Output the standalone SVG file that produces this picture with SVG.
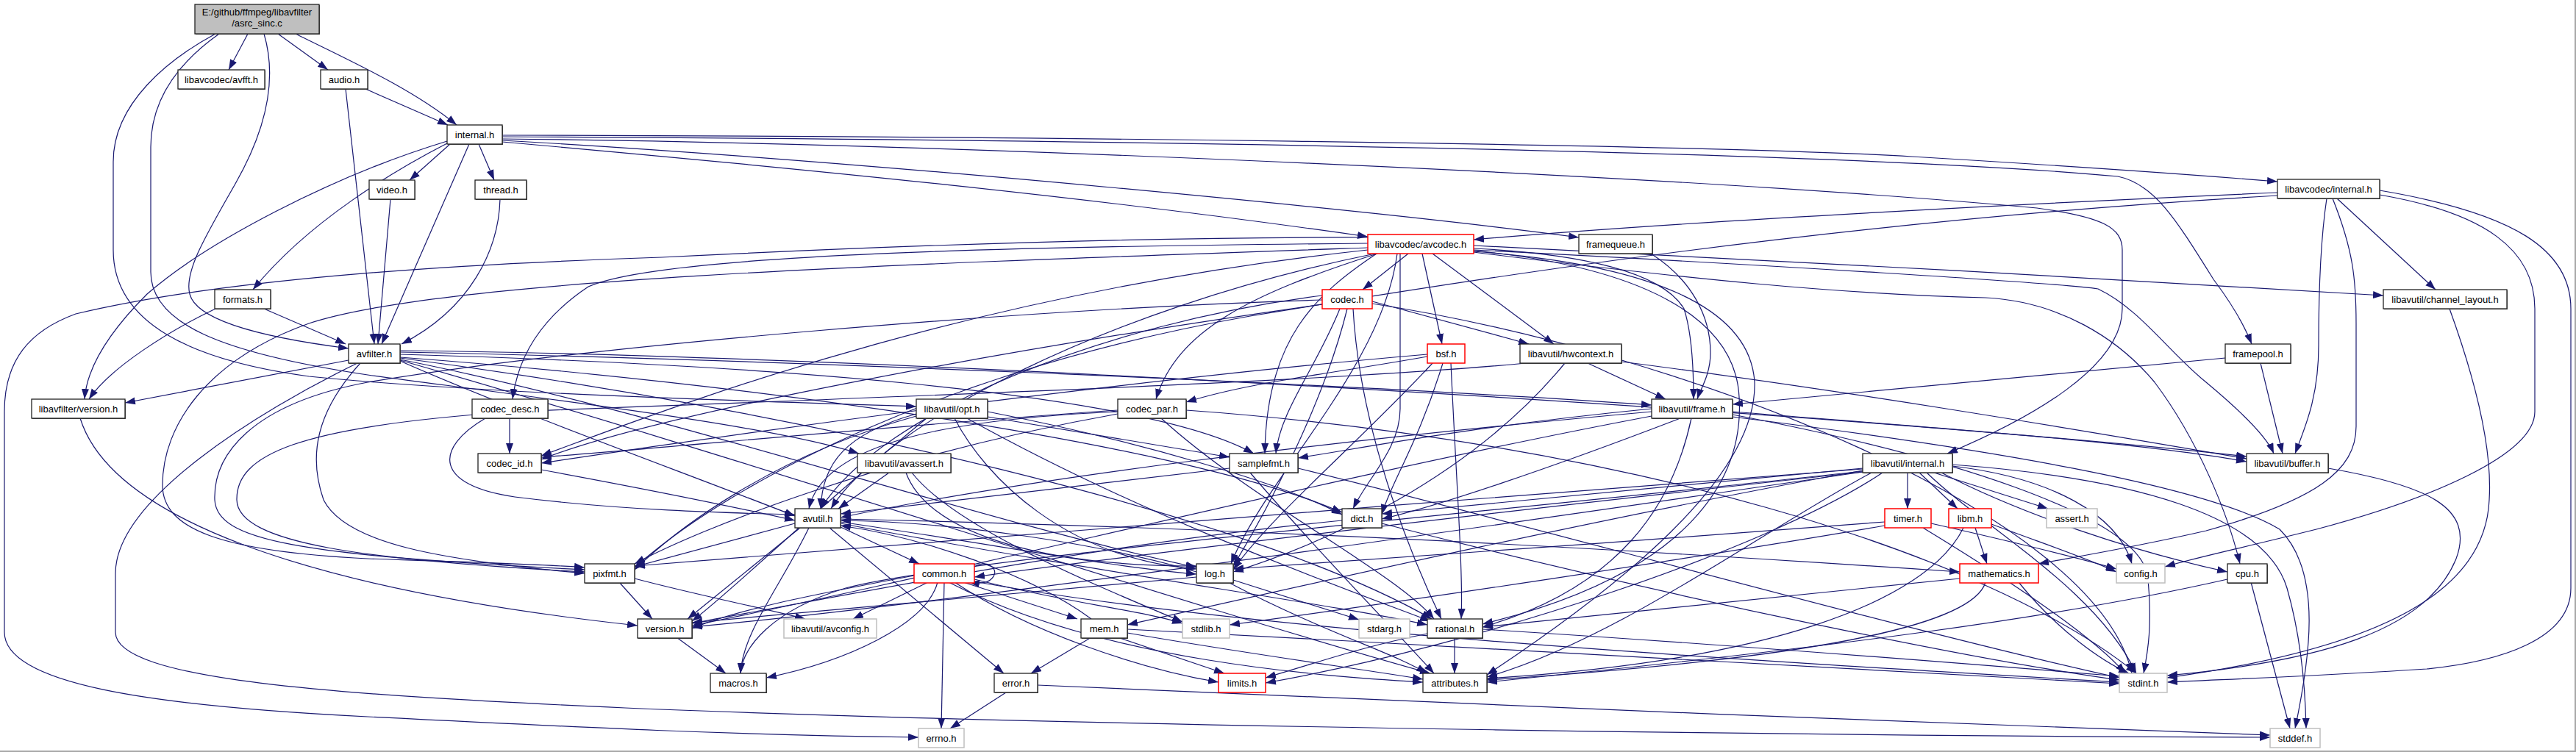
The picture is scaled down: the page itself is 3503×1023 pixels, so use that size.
<svg xmlns="http://www.w3.org/2000/svg" width="3503" height="1023" viewBox="0 0 3503 1023">
<style>
.b{fill:#fff;stroke:#222;stroke-width:1.3}
.r{fill:#fff;stroke:#f00;stroke-width:1.5}
.g{fill:#fff;stroke:#bfbfbf;stroke-width:1.5}
.s{fill:#555;stroke:none}
text{font-family:"Liberation Sans",Arial,sans-serif;font-size:13px;text-anchor:middle;fill:#000}
.e{fill:none;stroke:#191970;stroke-width:1.2;marker-end:url(#a)}
</style>
<defs>
<marker id="a" markerUnits="userSpaceOnUse" markerWidth="15" markerHeight="11" refX="14" refY="5" orient="auto"><path d="M0,0 L14,5 L0,10 z" fill="#191970"/></marker>
</defs>
<rect x="0" y="0" width="3503" height="1023" fill="#fff"/>
<path d="M3502,0 V1022 H0" fill="none" stroke="#a8a8a8" stroke-width="2"/>
<g id="edges">
<path class="e" d="M337,46 L311,95"/>
<path class="e" d="M378,46 L446,95"/>
<path class="e" d="M402,46 C470,80 560,120 621,170"/>
<path class="e" d="M359,46 C378,110 360,180 320,250 C280,320 250,370 258,400 C268,440 380,462 474,474"/>
<path class="e" d="M293,46 C230,80 154,140 154,220 L154,340 C154,440 260,490 420,512 C650,535 1000,545 1246,553"/>
<path class="e" d="M298,46 C250,80 205,130 205,200 L205,370 C205,440 300,480 500,510 C800,550 1050,580 1168,617"/>
<path class="e" d="M497,121 L609,170"/>
<path class="e" d="M470,121 L509,468"/>
<path class="e" d="M612,196 L557,245"/>
<path class="e" d="M651,196 L672,245"/>
<path class="e" d="M638,196 L519,468"/>
<path class="e" d="M608,195 C540,230 420,300 344,394"/>
<path class="e" d="M608,192 C450,240 280,330 200,400 C150,450 118,500 115,543"/>
<path class="e" d="M683,193 C1100,230 1500,270 1860,322"/>
<path class="e" d="M683,191 C1200,220 1900,290 2147,323"/>
<path class="e" d="M683,184 C1300,185 2300,195 2600,213 C2800,225 2950,235 3097,247"/>
<path class="e" d="M683,186 C1500,190 2500,205 2880,240 C2930,250 2960,300 3010,380 C3040,420 3055,450 3062,468"/>
<path class="e" d="M683,189 C1300,195 2300,240 2770,283 C2860,295 2886,310 2886,340 L2886,420 C2886,500 2760,570 2648,617"/>
<path class="e" d="M359,420 L470,468"/>
<path class="e" d="M293,420 C230,450 150,500 121,543"/>
<path class="e" d="M531,271 L514,468"/>
<path class="e" d="M680,271 C678,340 640,420 546,468"/>
<path class="e" d="M474,490 L170,548"/>
<path class="e" d="M490,494 C430,560 419,620 440,680 C470,740 600,762 795,780"/>
<path class="e" d="M544,491 C700,560 950,650 1081,702"/>
<path class="e" d="M544,477 C1200,483 2500,560 3055,621"/>
<path class="e" d="M544,486 C1000,520 1600,600 1825,697"/>
<path class="e" d="M544,479 C1000,488 1800,520 2246,551"/>
<path class="e" d="M544,489 C900,560 1300,700 1627,772"/>
<path class="e" d="M544,482 C1000,495 1550,530 1705,617"/>
<path class="e" d="M544,487 C1100,560 1700,700 1947,842"/>
<path class="e" d="M544,490 C1000,620 1600,820 1945,916"/>
<path class="e" d="M486,494 C350,560 157,680 157,780 L157,860 C157,925 450,945 850,963 C1500,990 2600,1002 3087,1003"/>
<path class="e" d="M1860,323 C1500,322 1100,340 900,350 C600,360 300,380 103,427 C40,450 6,490 6,560 L6,860 C6,930 200,960 500,975 C800,990 1000,1000 1249,1003"/>
<path class="e" d="M1915,345 L1853,394"/>
<path class="e" d="M1934,345 L1961,468"/>
<path class="e" d="M1948,345 L2113,468"/>
<path class="e" d="M1860,331 C1400,335 900,345 800,390 C740,430 705,480 697,543"/>
<path class="e" d="M1873,345 C1700,400 1600,450 1572,543"/>
<path class="e" d="M1872,345 C1790,400 1722,460 1720,617"/>
<path class="e" d="M1904,345 L1904,556 C1904,610 1860,650 1840,692"/>
<path class="e" d="M2004,338 C2150,345 2260,370 2290,420 C2303,460 2303,520 2303,543"/>
<path class="e" d="M2004,334 C2300,348 2900,380 3241,402"/>
<path class="e" d="M2004,340 C2400,360 2800,385 2853,393 C2910,420 2950,480 3000,520 C3060,570 3085,600 3092,617"/>
<path class="e" d="M2004,343 C2300,380 2500,400 2700,405 C2800,410 2880,460 2930,520 C2990,600 3030,700 3046,767"/>
<path class="e" d="M2004,342 C2250,360 2380,420 2386,520 C2390,650 2200,800 2022,918"/>
<path class="e" d="M2004,341 C2250,365 2360,440 2365,540 C2372,650 2300,780 2016,849"/>
<path class="e" d="M1900,345 C1880,500 1720,650 1674,767"/>
<path class="e" d="M1860,337 C1200,360 600,380 420,440 C280,490 221,580 221,660 C221,720 300,750 500,760 C650,765 750,768 795,772"/>
<path class="e" d="M1870,345 C1500,420 1200,580 1130,692"/>
<path class="e" d="M1860,340 C1300,400 900,560 736,620"/>
<path class="e" d="M1798,402 C1500,440 1200,560 1116,692"/>
<path class="e" d="M1866,410 L2079,468"/>
<path class="e" d="M1832,420 C1800,550 1720,700 1677,770"/>
<path class="e" d="M1798,408 C1400,420 800,470 500,520 C340,550 290,620 292,680 C295,735 400,755 795,775"/>
<path class="e" d="M1840,420 C1850,600 1930,780 1960,842"/>
<path class="e" d="M1822,420 C1790,500 1740,560 1735,617"/>
<path class="e" d="M1798,414 C1400,470 900,560 736,625"/>
<path class="e" d="M1866,413 C2300,480 2850,700 2899,916"/>
<path class="e" d="M1941,485 C1800,510 1700,520 1613,547"/>
<path class="e" d="M1941,482 C1500,520 1000,590 736,630"/>
<path class="e" d="M1962,494 C1930,600 1890,660 1879,700"/>
<path class="e" d="M1948,494 C1850,600 1730,700 1677,775"/>
<path class="e" d="M1973,494 C1980,650 1990,780 1987,842"/>
<path class="e" d="M2159,494 L2265,543"/>
<path class="e" d="M2205,492 C2500,530 2800,580 3055,624"/>
<path class="e" d="M2128,494 C2000,650 1800,740 1677,778"/>
<path class="e" d="M2075,494 C1800,520 1200,540 700,560 C400,580 321,620 322,680 C323,740 500,762 795,778"/>
<path class="e" d="M2246,560 C1800,600 1400,650 1143,704"/>
<path class="e" d="M2356,560 C2600,580 2900,600 3055,628"/>
<path class="e" d="M2285,569 C2100,640 1950,690 1879,706"/>
<path class="e" d="M2300,569 C2274,690 2200,800 2016,853"/>
<path class="e" d="M2246,556 C2000,580 1850,610 1765,623"/>
<path class="e" d="M2246,566 C1800,650 1300,780 941,851"/>
<path class="e" d="M2356,567 C2700,610 3000,660 3100,720 C3160,780 3140,900 3121,991"/>
<path class="e" d="M2356,564 C2650,620 2900,700 2920,780 C2928,850 2920,890 2915,916"/>
<path class="e" d="M2245,345 C2300,380 2326,430 2326,480 C2326,510 2312,530 2308,543"/>
<path class="e" d="M3074,494 L3104,617"/>
<path class="e" d="M3026,487 L2356,550"/>
<path class="e" d="M3097,262 C2800,275 2300,300 2004,326"/>
<path class="e" d="M3097,266 C2500,300 2000,380 1700,430 C1300,500 1000,650 863,772"/>
<path class="e" d="M3178,270 L3312,394"/>
<path class="e" d="M3164,270 C3155,330 3153,400 3153,470 C3153,540 3135,580 3121,617"/>
<path class="e" d="M3172,270 C3200,340 3204,380 3204,440 L3204,580 C3204,640 3150,680 3000,722 C2900,745 2820,758 2772,767"/>
<path class="e" d="M3236,265 C3380,290 3447,340 3447,420 L3447,560 C3447,620 3300,680 3150,720 C3050,745 2980,760 2944,771"/>
<path class="e" d="M3236,259 C3420,290 3496,340 3496,420 L3496,800 C3496,870 3400,900 3300,910 C3150,920 3000,925 2947,928"/>
<path class="e" d="M3331,420 C3360,500 3390,600 3385,680 C3380,800 3250,880 2947,922"/>
<path class="e" d="M3166,637 C3300,660 3366,690 3340,760 C3300,860 3150,900 2947,919"/>
<path class="e" d="M3061,792 L3114,991"/>
<path class="e" d="M3029,788 C2800,840 2500,880 2022,928"/>
<path class="e" d="M2594,643 L2594,692"/>
<path class="e" d="M2610,643 L2662,692"/>
<path class="e" d="M2630,643 L2785,692"/>
<path class="e" d="M2655,634 C2790,650 2880,700 2899,767"/>
<path class="e" d="M2640,643 C2750,700 2900,750 3029,778"/>
<path class="e" d="M2620,643 C2700,720 2850,800 2905,916"/>
<path class="e" d="M2655,632 C2900,650 3080,700 3110,800 C3130,870 3135,940 3136,991"/>
<path class="e" d="M2545,643 C2400,720 2200,870 2022,921"/>
<path class="e" d="M2533,637 L1879,699"/>
<path class="e" d="M2533,640 C2200,700 1800,790 1533,850"/>
<path class="e" d="M2533,641 C2000,700 1300,760 1150,800 C1050,830 1010,880 1007,916"/>
<path class="e" d="M2533,638 C2000,680 1200,740 863,770"/>
<path class="e" d="M2533,642 C2000,720 1300,820 941,853"/>
<path class="e" d="M2560,643 C2400,750 2000,880 1721,929"/>
<path class="e" d="M2533,642 C2000,700 1500,760 1325,785"/>
<path class="e" d="M2626,712 C2750,740 2830,760 2878,774"/>
<path class="e" d="M2615,718 C2750,800 2850,870 2890,916"/>
<path class="e" d="M2563,710 C2300,730 1900,760 1677,774"/>
<path class="e" d="M2563,715 C2300,760 1900,820 1672,850"/>
<path class="e" d="M2686,718 L2702,767"/>
<path class="e" d="M2708,713 C2780,740 2840,760 2878,778"/>
<path class="e" d="M2670,718 C2620,820 2400,900 2022,923"/>
<path class="e" d="M2745,792 C2800,860 2860,900 2895,916"/>
<path class="e" d="M2700,792 C2680,860 2400,900 2022,925"/>
<path class="e" d="M2665,787 L2016,853"/>
<path class="e" d="M1879,712 C2300,820 2700,900 2882,925"/>
<path class="e" d="M1825,708 C1500,740 1200,800 941,848"/>
<path class="e" d="M1672,637 L1143,699"/>
<path class="e" d="M1765,637 C2100,720 2600,860 2882,922"/>
<path class="e" d="M1700,643 C1800,760 1900,860 1950,916"/>
<path class="e" d="M1520,560 C1300,570 1120,600 1100,692"/>
<path class="e" d="M1579,569 C1700,680 1900,780 1950,842"/>
<path class="e" d="M1520,563 C1200,620 950,720 863,767"/>
<path class="e" d="M1520,558 C1200,580 900,610 736,622"/>
<path class="e" d="M1613,558 C2200,600 2700,750 2905,916"/>
<path class="e" d="M1246,563 C1150,590 1118,630 1116,692"/>
<path class="e" d="M1343,560 C1550,600 1750,660 1825,700"/>
<path class="e" d="M1298,569 C1340,650 1450,760 1627,774"/>
<path class="e" d="M1246,566 C1050,620 920,720 863,775"/>
<path class="e" d="M1315,569 C1550,700 1800,790 1945,845"/>
<path class="e" d="M1343,567 L1672,622"/>
<path class="e" d="M1260,569 C1100,700 1000,800 941,845"/>
<path class="e" d="M1209,643 L1140,692"/>
<path class="e" d="M1232,643 C1260,720 1400,770 1627,770"/>
<path class="e" d="M1240,643 C1300,720 1500,800 1608,846"/>
<path class="e" d="M1627,778 C1500,740 1300,710 1143,708"/>
<path class="e" d="M1677,789 L1848,843"/>
<path class="e" d="M1670,792 C1800,860 1900,890 1940,916"/>
<path class="e" d="M1627,785 L941,847"/>
<path class="e" d="M1143,717 L1250,767"/>
<path class="e" d="M1128,718 L1365,916"/>
<path class="e" d="M1143,712 C1500,780 1800,820 1941,850"/>
<path class="e" d="M1088,718 L935,842"/>
<path class="e" d="M1100,718 C1060,800 1010,860 1007,916"/>
<path class="e" d="M1143,706 C1800,720 2400,760 2665,778"/>
<path class="e" d="M1143,710 C1350,740 1500,770 1627,781"/>
<path class="e" d="M1081,712 L863,771"/>
<path class="e" d="M1325,771 C1345,760 1356,775 1352,782 C1348,792 1336,795 1318,792"/>
<path class="e" d="M1243,783 C1100,810 1000,830 941,855"/>
<path class="e" d="M1262,792 L1160,842"/>
<path class="e" d="M1275,792 C1260,850 1150,900 1042,922"/>
<path class="e" d="M1284,792 L1280,991"/>
<path class="e" d="M1310,792 L1465,842"/>
<path class="e" d="M1325,788 C1450,820 1550,830 1608,848"/>
<path class="e" d="M1325,791 C1700,860 2400,900 2882,928"/>
<path class="e" d="M1298,792 C1400,860 1550,910 1657,928"/>
<path class="e" d="M1290,792 C1500,900 1800,920 1935,928"/>
<path class="e" d="M1484,867 L1402,916"/>
<path class="e" d="M1520,867 L1665,916"/>
<path class="e" d="M1533,856 C2000,880 2500,910 2882,930"/>
<path class="e" d="M1533,861 C1700,890 1850,910 1935,924"/>
<path class="e" d="M1484,842 C1400,780 1250,730 1143,715"/>
<path class="e" d="M1368,942 L1292,991"/>
<path class="e" d="M1411,932 C1800,948 2600,985 3087,1000"/>
<path class="e" d="M1978,867 L1978,916"/>
<path class="e" d="M1941,862 C1850,880 1780,905 1721,922"/>
<path class="e" d="M2016,856 C2400,880 2700,905 2882,920"/>
<path class="e" d="M842,792 L887,842"/>
<path class="e" d="M863,787 C950,810 1050,830 1095,842"/>
<path class="e" d="M920,867 L987,916"/>
<path class="e" d="M109,569 C150,700 400,800 867,851"/>
<path class="e" d="M693,569 L693,617"/>
<path class="e" d="M660,569 C590,610 590,660 700,676 C850,695 1000,698 1081,700"/>
<path class="e" d="M736,639 C850,660 1000,690 1081,708"/>
</g>
<g id="n_asrc"><rect class="s" x="266" y="7" width="169" height="40"/><rect x="265" y="6" width="169" height="40" fill="#bfbfbf" stroke="#222" stroke-width="1.3"/><text x="349.5" y="21">E:/github/ffmpeg/libavfilter</text><text x="349.5" y="36">/asrc_sinc.c</text></g>
<g id="n_avfft"><rect class="s" x="243" y="96" width="118" height="26"/><rect class="b" x="242" y="95" width="118" height="26"/><text x="301" y="112.5">libavcodec/avfft.h</text></g>
<g id="n_audio"><rect class="s" x="437" y="96" width="64" height="26"/><rect class="b" x="436" y="95" width="64" height="26"/><text x="468" y="112.5">audio.h</text></g>
<g id="n_internal"><rect class="s" x="609" y="171" width="75" height="26"/><rect class="b" x="608" y="170" width="75" height="26"/><text x="645.5" y="187.5">internal.h</text></g>
<g id="n_video"><rect class="s" x="503" y="246" width="62" height="26"/><rect class="b" x="502" y="245" width="62" height="26"/><text x="533" y="262.5">video.h</text></g>
<g id="n_thread"><rect class="s" x="647" y="246" width="70" height="26"/><rect class="b" x="646" y="245" width="70" height="26"/><text x="681" y="262.5">thread.h</text></g>
<g id="n_formats"><rect class="s" x="293" y="395" width="76" height="26"/><rect class="b" x="292" y="394" width="76" height="26"/><text x="330" y="411.5">formats.h</text></g>
<g id="n_avfilter"><rect class="s" x="475" y="469" width="70" height="26"/><rect class="b" x="474" y="468" width="70" height="26"/><text x="509" y="485.5">avfilter.h</text></g>
<g id="n_lavfi_version"><rect class="s" x="44" y="544" width="127" height="26"/><rect class="b" x="43" y="543" width="127" height="26"/><text x="106.5" y="560.5">libavfilter/version.h</text></g>
<g id="n_codec_desc"><rect class="s" x="643" y="544" width="103" height="26"/><rect class="b" x="642" y="543" width="103" height="26"/><text x="693.5" y="560.5">codec_desc.h</text></g>
<g id="n_codec_id"><rect class="s" x="651" y="618" width="86" height="26"/><rect class="b" x="650" y="617" width="86" height="26"/><text x="693" y="634.5">codec_id.h</text></g>
<g id="n_pixfmt"><rect class="s" x="796" y="768" width="68" height="26"/><rect class="b" x="795" y="767" width="68" height="26"/><text x="829" y="784.5">pixfmt.h</text></g>
<g id="n_version"><rect class="s" x="868" y="843" width="74" height="26"/><rect class="b" x="867" y="842" width="74" height="26"/><text x="904" y="859.5">version.h</text></g>
<g id="n_opt"><rect class="s" x="1247" y="544" width="97" height="26"/><rect class="b" x="1246" y="543" width="97" height="26"/><text x="1294.5" y="560.5">libavutil/opt.h</text></g>
<g id="n_codec_par"><rect class="s" x="1521" y="544" width="93" height="26"/><rect class="b" x="1520" y="543" width="93" height="26"/><text x="1566.5" y="560.5">codec_par.h</text></g>
<g id="n_avassert"><rect class="s" x="1167" y="618" width="127" height="26"/><rect class="b" x="1166" y="617" width="127" height="26"/><text x="1229.5" y="634.5">libavutil/avassert.h</text></g>
<g id="n_samplefmt"><rect class="s" x="1673" y="618" width="93" height="26"/><rect class="b" x="1672" y="617" width="93" height="26"/><text x="1718.5" y="634.5">samplefmt.h</text></g>
<g id="n_avutil"><rect class="s" x="1082" y="693" width="62" height="26"/><rect class="b" x="1081" y="692" width="62" height="26"/><text x="1112" y="709.5">avutil.h</text></g>
<g id="n_log"><rect class="s" x="1628" y="768" width="50" height="26"/><rect class="b" x="1627" y="767" width="50" height="26"/><text x="1652" y="784.5">log.h</text></g>
<g id="n_common"><rect class="r" x="1243" y="767" width="82" height="26"/><text x="1284" y="784.5">common.h</text></g>
<g id="n_avconfig"><rect class="g" x="1066" y="842" width="126" height="26"/><text x="1129" y="859.5">libavutil/avconfig.h</text></g>
<g id="n_mem"><rect class="s" x="1471" y="843" width="63" height="26"/><rect class="b" x="1470" y="842" width="63" height="26"/><text x="1501.5" y="859.5">mem.h</text></g>
<g id="n_stdlib"><rect class="g" x="1608" y="842" width="64" height="26"/><text x="1640" y="859.5">stdlib.h</text></g>
<g id="n_macros"><rect class="s" x="967" y="917" width="76" height="26"/><rect class="b" x="966" y="916" width="76" height="26"/><text x="1004" y="933.5">macros.h</text></g>
<g id="n_error"><rect class="s" x="1353" y="917" width="59" height="26"/><rect class="b" x="1352" y="916" width="59" height="26"/><text x="1381.5" y="933.5">error.h</text></g>
<g id="n_limits"><rect class="r" x="1657" y="916" width="64" height="26"/><text x="1689" y="933.5">limits.h</text></g>
<g id="n_errno"><rect class="g" x="1249" y="991" width="62" height="26"/><text x="1280" y="1008.5">errno.h</text></g>
<g id="n_avcodec"><rect class="r" x="1860" y="319" width="144" height="26"/><text x="1932" y="336.5">libavcodec/avcodec.h</text></g>
<g id="n_framequeue"><rect class="s" x="2148" y="320" width="100" height="26"/><rect class="b" x="2147" y="319" width="100" height="26"/><text x="2197" y="336.5">framequeue.h</text></g>
<g id="n_codec"><rect class="r" x="1798" y="394" width="68" height="26"/><text x="1832" y="411.5">codec.h</text></g>
<g id="n_bsf"><rect class="r" x="1941" y="468" width="51" height="26"/><text x="1966.5" y="485.5">bsf.h</text></g>
<g id="n_hwcontext"><rect class="s" x="2068" y="469" width="138" height="26"/><rect class="b" x="2067" y="468" width="138" height="26"/><text x="2136" y="485.5">libavutil/hwcontext.h</text></g>
<g id="n_lavc_internal"><rect class="s" x="3098" y="245" width="139" height="26"/><rect class="b" x="3097" y="244" width="139" height="26"/><text x="3166.5" y="261.5">libavcodec/internal.h</text></g>
<g id="n_channel_layout"><rect class="s" x="3242" y="395" width="168" height="26"/><rect class="b" x="3241" y="394" width="168" height="26"/><text x="3325" y="411.5">libavutil/channel_layout.h</text></g>
<g id="n_framepool"><rect class="s" x="3027" y="469" width="89" height="26"/><rect class="b" x="3026" y="468" width="89" height="26"/><text x="3070.5" y="485.5">framepool.h</text></g>
<g id="n_frame"><rect class="s" x="2247" y="544" width="110" height="26"/><rect class="b" x="2246" y="543" width="110" height="26"/><text x="2301" y="560.5">libavutil/frame.h</text></g>
<g id="n_dict"><rect class="s" x="1826" y="693" width="54" height="26"/><rect class="b" x="1825" y="692" width="54" height="26"/><text x="1852" y="709.5">dict.h</text></g>
<g id="n_lavu_internal"><rect class="s" x="2534" y="618" width="122" height="26"/><rect class="b" x="2533" y="617" width="122" height="26"/><text x="2594" y="634.5">libavutil/internal.h</text></g>
<g id="n_timer"><rect class="r" x="2563" y="692" width="63" height="26"/><text x="2594.5" y="709.5">timer.h</text></g>
<g id="n_stdarg"><rect class="g" x="1848" y="842" width="69" height="26"/><text x="1882.5" y="859.5">stdarg.h</text></g>
<g id="n_rational"><rect class="s" x="1942" y="843" width="75" height="26"/><rect class="b" x="1941" y="842" width="75" height="26"/><text x="1978.5" y="859.5">rational.h</text></g>
<g id="n_attributes"><rect class="s" x="1936" y="917" width="87" height="26"/><rect class="b" x="1935" y="916" width="87" height="26"/><text x="1978.5" y="933.5">attributes.h</text></g>
<g id="n_buffer"><rect class="s" x="3056" y="618" width="111" height="26"/><rect class="b" x="3055" y="617" width="111" height="26"/><text x="3110.5" y="634.5">libavutil/buffer.h</text></g>
<g id="n_libm"><rect class="r" x="2650" y="692" width="58" height="26"/><text x="2679" y="709.5">libm.h</text></g>
<g id="n_assert"><rect class="g" x="2783" y="692" width="69" height="26"/><text x="2817.5" y="709.5">assert.h</text></g>
<g id="n_mathematics"><rect class="r" x="2665" y="767" width="107" height="26"/><text x="2718.5" y="784.5">mathematics.h</text></g>
<g id="n_config"><rect class="g" x="2878" y="767" width="66" height="26"/><text x="2911" y="784.5">config.h</text></g>
<g id="n_cpu"><rect class="s" x="3030" y="768" width="54" height="26"/><rect class="b" x="3029" y="767" width="54" height="26"/><text x="3056" y="784.5">cpu.h</text></g>
<g id="n_stdint"><rect class="g" x="2882" y="916" width="65" height="26"/><text x="2914.5" y="933.5">stdint.h</text></g>
<g id="n_stddef"><rect class="g" x="3087" y="991" width="68" height="26"/><text x="3121" y="1008.5">stddef.h</text></g>
</svg>
